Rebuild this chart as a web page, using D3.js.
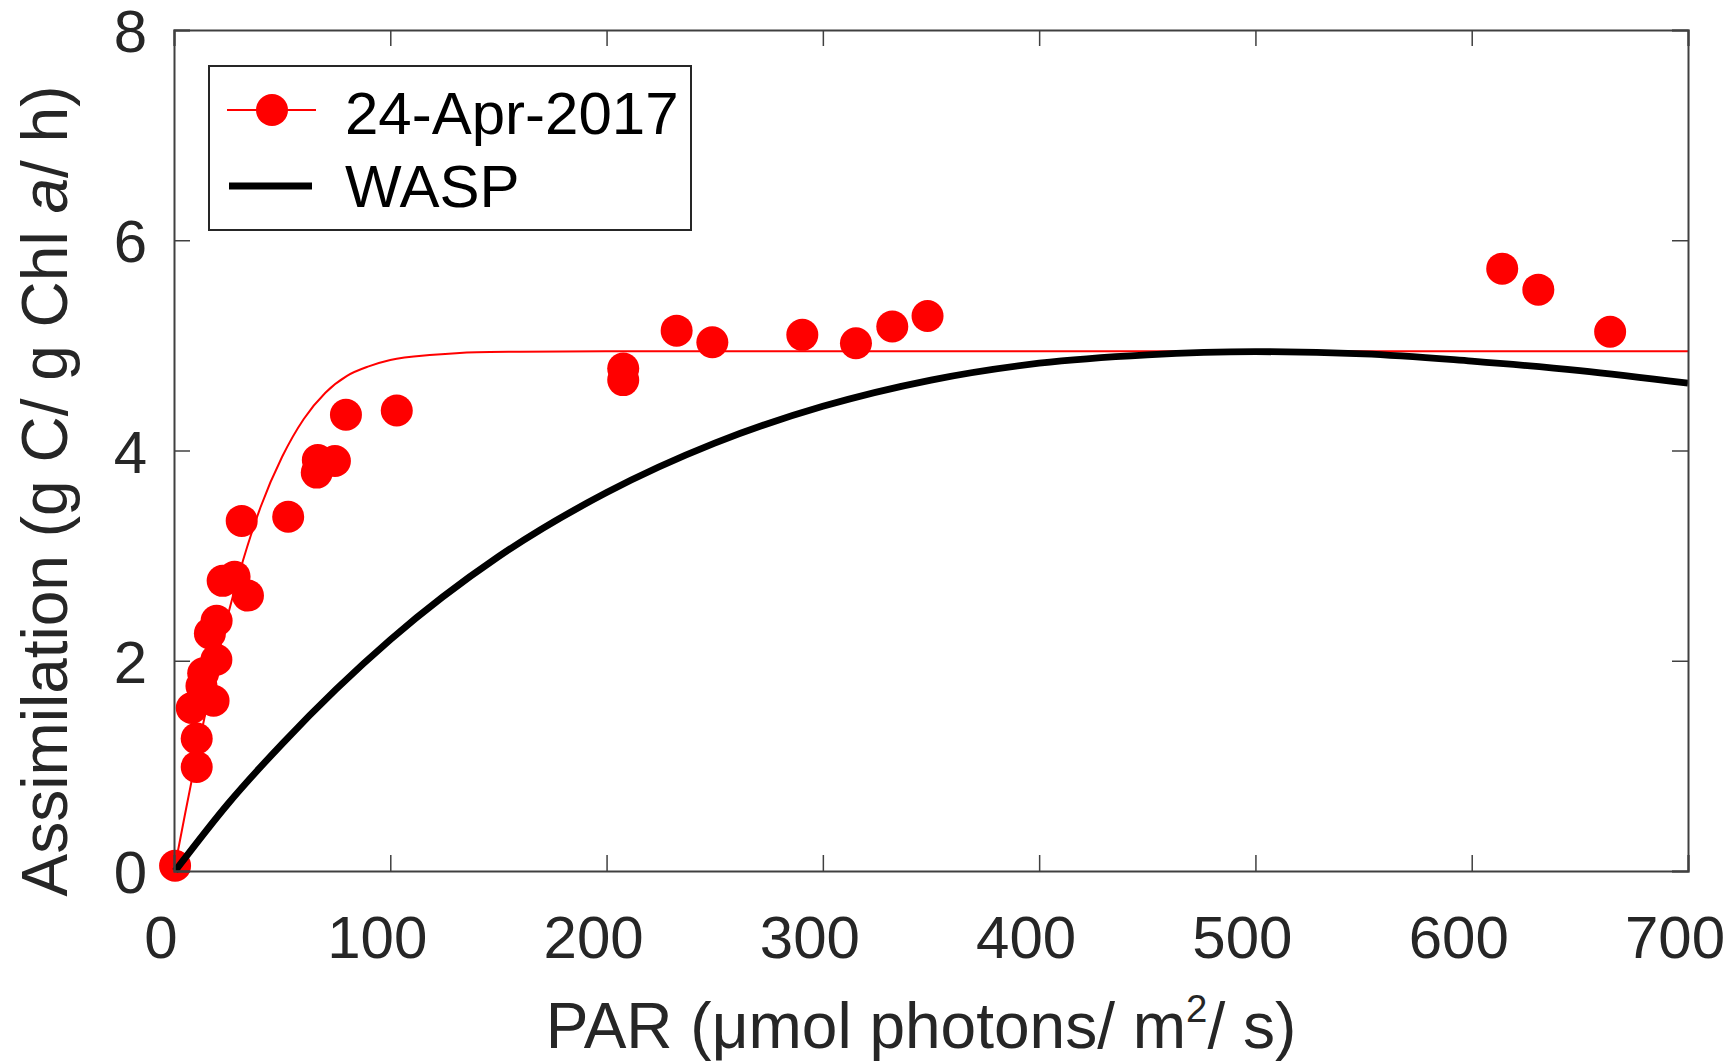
<!DOCTYPE html>
<html>
<head>
<meta charset="utf-8">
<script src="https://cdn.jsdelivr.net/npm/d3@7"></script>
<style>
  body { margin: 0; background: #fff; }
  text { font-family: "Liberation Sans", Arial, Helvetica, sans-serif; fill: #262626; }
</style>
</head>
<body>
<div id="main"></div>
<script>
// measured points (PAR, assimilation)
const par = [0.5, 10.5, 10.5, 8.2, 12.7, 18.3, 13.5, 19.6, 16.6, 19.7, 22.5, 28, 34.2, 31.3, 52.8, 66, 66.5, 74.4, 79.5, 103,
  207.7, 207.7, 232.4, 248.9, 290.5, 315.3, 332.1, 348.4, 614.1, 630.8, 664]
const assim = [0.05, 0.99, 1.26, 1.55, 1.76, 1.62, 1.88, 2.01, 2.26, 2.38, 2.76, 2.8, 2.62, 3.33, 3.37, 3.79, 3.91, 3.9, 4.34, 4.38,
  4.67, 4.78, 5.14, 5.03, 5.10, 5.02, 5.18, 5.28, 5.73, 5.53, 5.13]

// red fitted curve
const fitPar = [0.5, 5, 10, 15, 20, 25, 30, 40, 50, 60, 70, 80, 90, 100, 120, 140, 160, 200, 300, 400, 500, 600, 700]
const fitVal = [0.05, 0.53, 1.05, 1.55, 2.01, 2.44, 2.82, 3.46, 3.94, 4.3, 4.55, 4.71, 4.8, 4.86, 4.91, 4.935, 4.94, 4.945, 4.945, 4.945, 4.945, 4.945, 4.945]

// WASP model curve
const waspPar = [0.5, 25, 50, 75, 100, 150, 200, 250, 300, 350, 400, 450, 500, 550, 600, 650, 700]
const waspVal = [0, 0.64, 1.21, 1.73, 2.2, 2.99, 3.6, 4.07, 4.42, 4.67, 4.83, 4.91, 4.94, 4.92, 4.85, 4.76, 4.64]

const xTicks = [0, 100, 200, 300, 400, 500, 600, 700]
const yTicks = [0, 2, 4, 6, 8]
const seriesNames = ["24-Apr-2017", "WASP"]

let width = 1734,
    height = 1064

const margin = { left: 174, right: 46, top: 30, bottom: 193 }
const fs = 60,
    titleFs = 64

var svg = d3.select("div#main")
    .append("svg")
    .attr("width", width)
    .attr("height", height)

let x = d3.scaleLinear().domain([0, 700]).range([margin.left, width - margin.right])
let y = d3.scaleLinear().domain([0, 8]).range([height - margin.bottom, margin.top])

let pts = par.map((p, i) => ({ x: p, y: assim[i] }))
let fit = fitPar.map((p, i) => ({ x: p, y: fitVal[i] }))
let wasp = waspPar.map((p, i) => ({ x: p, y: waspVal[i] }))

let line = d3.line().x(d => x(d.x)).y(d => y(d.y)).curve(d3.curveMonotoneX)

// points
svg.append("g")
    .selectAll("circle")
    .data(pts)
    .join("circle")
    .attr("cx", d => x(d.x))
    .attr("cy", d => y(d.y))
    .attr("r", 16)
    .attr("fill", "#ff0000")

svg.append("path")
    .datum(fit)
    .attr("d", line)
    .attr("fill", "none")
    .attr("stroke", "#ff0000")
    .attr("stroke-width", 2)

svg.append("path")
    .datum(wasp)
    .attr("d", line)
    .attr("fill", "none")
    .attr("stroke", "#000")
    .attr("stroke-width", 6.8)

// axes box with inward ticks on all sides
const tickLen = 16
const axisColor = "#404040"

let xb = d3.axisBottom(x).tickValues(xTicks).tickSize(-tickLen).tickFormat("")
let xt = d3.axisTop(x).tickValues(xTicks).tickSize(-tickLen).tickFormat("")
let yl = d3.axisLeft(y).tickValues(yTicks).tickSize(-tickLen).tickFormat("")
let yr = d3.axisRight(y).tickValues(yTicks).tickSize(-tickLen).tickFormat("")

let gx = svg.append("g").attr("transform", `translate(0,${y(0)})`).call(xb)
let gxt = svg.append("g").attr("transform", `translate(0,${y(8)})`).call(xt)
let gy = svg.append("g").attr("transform", `translate(${x(0)},0)`).call(yl)
let gyr = svg.append("g").attr("transform", `translate(${x(700)},0)`).call(yr)

;[gx, gxt, gy, gyr].forEach(g => {
    g.selectAll("path").attr("stroke", axisColor).attr("stroke-width", 2)
    g.selectAll("line").attr("stroke", axisColor).attr("stroke-width", 1.5)
})

// tick labels
svg.append("g")
    .selectAll("text")
    .data(xTicks)
    .join("text")
    .attr("x", d => x(d) - 13)
    .attr("y", 958)
    .attr("text-anchor", "middle")
    .attr("font-size", fs)
    .text(d => d)

svg.append("g")
    .selectAll("text")
    .data(yTicks)
    .join("text")
    .attr("x", 147)
    .attr("y", d => y(d) + 22)
    .attr("text-anchor", "end")
    .attr("font-size", fs)
    .text(d => d)

// axis titles
let xl = svg.append("text")
    .attr("x", 921)
    .attr("y", 1048)
    .attr("text-anchor", "middle")
    .attr("font-size", titleFs)
xl.append("tspan").text("PAR (\u03bcmol photons/ m")
xl.append("tspan").attr("font-size", titleFs * 0.6).attr("dy", -26).text("2")
xl.append("tspan").attr("dy", 26).text("/ s)")

let ylab = svg.append("text")
    .attr("transform", "translate(67,491) rotate(-90)")
    .attr("text-anchor", "middle")
    .attr("font-size", titleFs)
ylab.append("tspan").text("Assimilation (g C/ g Chl ")
ylab.append("tspan").attr("font-style", "italic").text("a")
ylab.append("tspan").text("/ h)")

// legend
let lg = svg.append("g")
lg.append("rect")
    .attr("x", 209).attr("y", 66)
    .attr("width", 482).attr("height", 164)
    .attr("fill", "#fff")
    .attr("stroke", "#262626")
    .attr("stroke-width", 2)

lg.append("line")
    .attr("x1", 227).attr("x2", 316)
    .attr("y1", 110).attr("y2", 110)
    .attr("stroke", "#ff0000").attr("stroke-width", 2)
lg.append("circle")
    .attr("cx", 272).attr("cy", 110).attr("r", 16)
    .attr("fill", "#ff0000")
lg.append("line")
    .attr("x1", 229).attr("x2", 312)
    .attr("y1", 186).attr("y2", 186)
    .attr("stroke", "#000").attr("stroke-width", 6.8)

lg.selectAll("text.leg")
    .data(seriesNames)
    .join("text")
    .attr("class", "leg")
    .attr("x", 345)
    .attr("y", (d, i) => 134 + i * 73)
    .attr("font-size", fs)
    .style("fill", "#000")
    .text(d => d)
</script>
</body>
</html>
